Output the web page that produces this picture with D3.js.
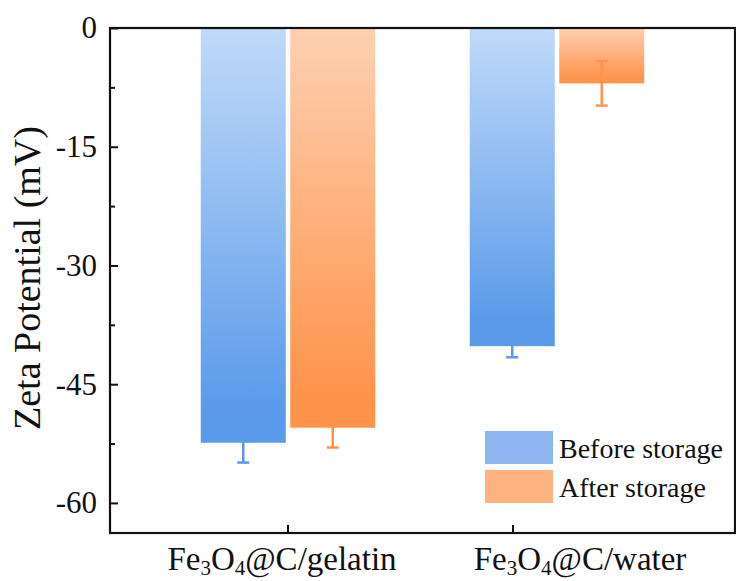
<!DOCTYPE html>
<html>
<head>
<meta charset="utf-8">
<script src="https://cdn.jsdelivr.net/npm/d3@7"></script>
<style>
  body { margin: 0; background: #fff; }
  svg text { font-family: "Liberation Serif", "Times New Roman", serif; fill: #111; }
</style>
</head>
<body>
<svg width="736" height="581"></svg>
<script>
// data
var samples = ["gelatin", "water"];
var series = ["Before storage", "After storage"];
var before = [-52.4, -40.2];
var beforeErr = [2.5, 1.4];
var after = [-50.5, -7.0];
var afterErr = [2.5, 2.8];
var yTicks = [0, -15, -30, -45, -60];
var yMinorTicks = [-7.5, -22.5, -37.5, -52.5];

// the original's x ticks and labels are not centred on the bar groups
var tickShift = [0, -44];
var labelShift = [-6, 23];

var svg = d3.select("svg");
var plotL = 110, plotR = 735, plotT = 28, plotB = 533;

var y = d3.scaleLinear().domain([-63.8, 0]).range([plotB, plotT]);
var x0 = d3.scaleBand().domain(samples).range([153.5, 691.5]);
var x1 = d3.scaleBand().domain(series).range([0, x0.bandwidth()]).paddingInner(0.05).paddingOuter(0.528);

var colors = {
  "Before storage": { top: "#c0daf8", bottom: "#5b9aea", legend: "#8db6f0" },
  "After storage": { top: "#fdd0b1", bottom: "#ff934b", legend: "#ffb380" }
};

var defs = svg.append("defs");
series.forEach(function (s, i) {
  var grad = defs.append("linearGradient")
    .attr("id", "grad" + i)
    .attr("x1", 0).attr("y1", 0).attr("x2", 0).attr("y2", 1);
  grad.append("stop").attr("offset", "0%").attr("stop-color", colors[s].top);
  grad.append("stop").attr("offset", "92%").attr("stop-color", colors[s].bottom);
});

var rows = [];
samples.forEach(function (k, i) {
  rows.push({ sample: k, key: series[0], value: before[i], err: beforeErr[i], gi: 0 });
  rows.push({ sample: k, key: series[1], value: after[i], err: afterErr[i], gi: 1 });
});

function cx(d) { return x0(d.sample) + x1(d.key) + x1.bandwidth() / 2; }

// bars
svg.selectAll(".bar")
  .data(rows)
  .enter().append("rect")
  .attr("class", "bar")
  .attr("x", function (d) { return x0(d.sample) + x1(d.key); })
  .attr("y", y(0))
  .attr("width", x1.bandwidth())
  .attr("height", function (d) { return y(d.value) - y(0); })
  .attr("fill", function (d) { return "url(#grad" + d.gi + ")"; });

// error bars
var eb = svg.selectAll(".err")
  .data(rows)
  .enter().append("g")
  .attr("class", "err")
  .attr("stroke", function (d) { return colors[d.key].bottom; })
  .attr("stroke-width", 2.5);
eb.append("line")
  .attr("x1", cx).attr("x2", cx)
  .attr("y1", function (d) { return y(d.value + d.err); })
  .attr("y2", function (d) { return y(d.value - d.err); });
[1, -1].forEach(function (sgn) {
  eb.append("line")
    .attr("x1", function (d) { return cx(d) - 6; })
    .attr("x2", function (d) { return cx(d) + 6; })
    .attr("y1", function (d) { return y(d.value + sgn * d.err); })
    .attr("y2", function (d) { return y(d.value + sgn * d.err); });
});

// frame
svg.append("rect")
  .attr("x", plotL).attr("y", plotT)
  .attr("width", plotR - plotL).attr("height", plotB - plotT)
  .attr("fill", "none").attr("stroke", "#111").attr("stroke-width", 2.2);

// y axis
var yAxis = svg.append("g")
  .attr("transform", "translate(" + plotL + ",0)")
  .call(d3.axisLeft(y).tickValues(yTicks).tickSize(-8).tickPadding(13)
    .tickFormat(function (d) { return String(d); }));
yAxis.select(".domain").remove();
yAxis.selectAll(".tick line").attr("stroke", "#111").attr("stroke-width", 2);
yAxis.selectAll(".tick text").attr("font-size", 31).attr("fill", "#111");

var yMinor = svg.append("g")
  .attr("transform", "translate(" + plotL + ",0)")
  .call(d3.axisLeft(y).tickValues(yMinorTicks).tickSize(-5).tickFormat(""));
yMinor.select(".domain").remove();
yMinor.selectAll(".tick line").attr("stroke", "#111").attr("stroke-width", 2);

// x axis
var xAxis = svg.append("g")
  .attr("transform", "translate(0," + plotB + ")")
  .call(d3.axisBottom(x0).tickSize(-8).tickFormat(""));
xAxis.select(".domain").remove();
xAxis.selectAll(".tick line")
  .attr("stroke", "#111").attr("stroke-width", 2)
  .attr("transform", function (d, i) { return "translate(" + tickShift[i] + ",0)"; });

xAxis.selectAll(".tick").append("text")
  .attr("x", function (d, i) { return labelShift[i]; })
  .attr("y", 37)
  .attr("text-anchor", "middle")
  .attr("font-size", 33)
  .attr("fill", "#111")
  .each(function (d) {
    var t = d3.select(this);
    t.append("tspan").text("Fe");
    t.append("tspan").attr("dy", 5).attr("font-size", 21).text("3");
    t.append("tspan").attr("dy", -5).text("O");
    t.append("tspan").attr("dy", 5).attr("font-size", 21).text("4");
    t.append("tspan").attr("dy", -5).text("@C/" + d);
  });

// y label
svg.append("text")
  .attr("transform", "translate(40,278) rotate(-90)")
  .attr("text-anchor", "middle")
  .attr("font-size", 38)
  .text("Zeta Potential (mV)");

// legend
var legend = svg.append("g").attr("transform", "translate(485,431)");
series.forEach(function (s, i) {
  var g = legend.append("g").attr("transform", "translate(0," + i * 39 + ")");
  g.append("rect").attr("width", 68).attr("height", 33).attr("fill", colors[s].legend);
  g.append("text").attr("x", 74).attr("y", 27).attr("font-size", 28).text(s);
});
</script>
</body>
</html>
